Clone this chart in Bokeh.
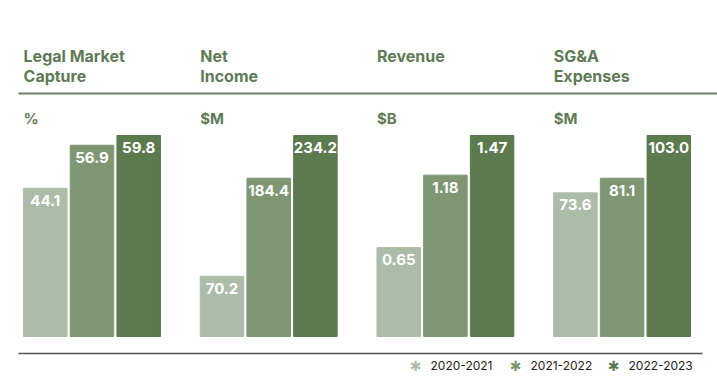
from bokeh.plotting import figure
from bokeh.models import Range1d, ColumnDataSource
from bokeh.core.properties import value
from bokeh.embed import file_html
from bokeh.resources import INLINE

# ---------------- data ----------------
title_lines = [["Legal Market", "Capture"], ["Net", "Income"], ["Revenue"], ["SG&A", "Expenses"]]
units = ["%", "$M", "$B", "$M"]
decimals = [1, 1, 2, 1]
periods = ["2020-2021", "2021-2022", "2022-2023"]
v_2020_2021 = [44.1, 70.2, 0.65, 73.6]
v_2021_2022 = [56.9, 184.4, 1.18, 81.1]
v_2022_2023 = [59.8, 234.2, 1.47, 103.0]
series = [v_2020_2021, v_2021_2022, v_2022_2023]
colors = ["#adbca8", "#7e9672", "#5b7a4e"]

# ---------------- layout constants ----------------
W, H = 717, 383
panel_px = 176.7
first_center_px = 91.5
step = 46.7 / panel_px
bw = 43.5 / panel_px
base_px, top_px = 47, 248
title_color = "#5f7a56"
FONT = "Inter"

p = figure(width=W, height=H, x_range=Range1d(0, W), y_range=Range1d(0, H),
           x_axis_type=None, y_axis_type=None, toolbar_location=None,
           output_backend="svg", min_border=0, outline_line_color=None,
           background_fill_color="white", border_fill_color="white")
p.grid.visible = False

gstart = -first_center_px / panel_px
p.extra_x_ranges = {"grp": Range1d(gstart, gstart + W / panel_px)}

yr = {}
for i in range(len(title_lines)):
    ymax = max(s[i] for s in series)
    scale = (top_px - base_px) / ymax
    yr[f"p{i}"] = Range1d(-base_px / scale, (H - base_px) / scale)
p.extra_y_ranges = yr

for i in range(len(title_lines)):
    xs = [i + (k - 1) * step for k in range(3)]
    tops = [s[i] for s in series]
    labs = [f"{t:.{decimals[i]}f}" for t in tops]
    src = ColumnDataSource(dict(x=xs, top=tops, color=colors, lab=labs))
    p.vbar(x="x", top="top", bottom=0, width=bw, color="color", source=src,
           x_range_name="grp", y_range_name=f"p{i}")
    p.text(x="x", y="top", text="lab", source=src, x_range_name="grp",
           y_range_name=f"p{i}", text_align="center", text_baseline="middle",
           y_offset=12, text_color="white", text_font=value(FONT),
           text_font_style="bold", text_font_size="15px")
    left = i - step - bw / 2
    for j, line in enumerate(title_lines[i]):
        p.text(x=[left], y=[328 - 20 * j], text=[line], x_range_name="grp",
               text_align="left", text_baseline="alphabetic",
               text_color=title_color, text_font=value(FONT),
               text_font_style="bold", text_font_size="16px")
    p.text(x=[left], y=[265], text=[units[i]], x_range_name="grp",
           text_align="left", text_baseline="alphabetic",
           text_color=title_color, text_font=value(FONT),
           text_font_style="bold", text_font_size="15px")

# rules
p.segment(x0=[18], y0=[290], x1=[W], y1=[290], line_color="#6f8166", line_width=2)
p.segment(x0=[18], y0=[30], x1=[702], y1=[30], line_color="#555555", line_width=1.5)

# legend
lx = [415, 515, 613]
p.text(x=lx, y=[18] * 3, text=["\u2731"] * 3, text_align="center",
       text_baseline="middle", text_color=colors, text_font=value("DejaVu Sans"),
       text_font_size="14px")
p.text(x=[x + 15 for x in lx], y=[18] * 3, text=periods, text_align="left",
       text_baseline="middle", text_color="#222222", text_font=value(FONT),
       text_font_size="12px")

open("out.html", "w").write(file_html(p, INLINE))
